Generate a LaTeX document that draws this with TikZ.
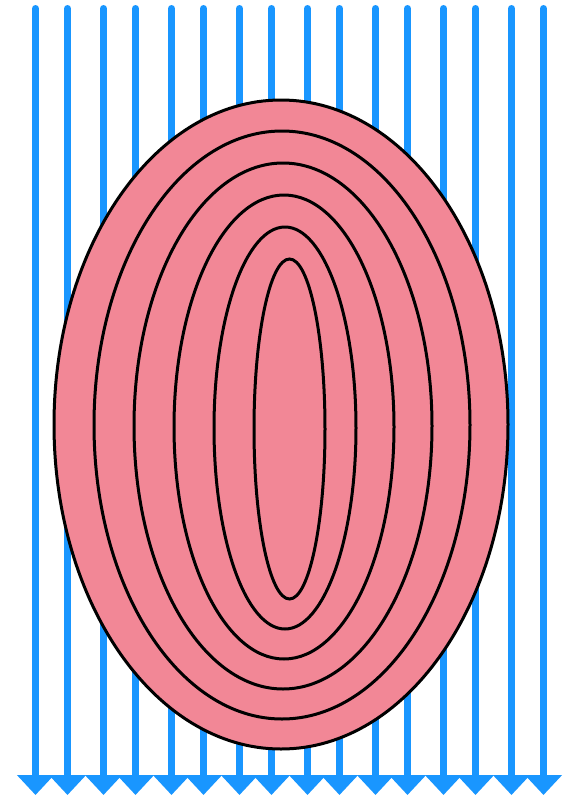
\documentclass[tikz,border=0pt]{standalone}
\usetikzlibrary{arrows.meta}
\definecolor{flowblue}{RGB}{25,150,255}
\definecolor{ringpink}{RGB}{242,135,150}
\tikzset{
  flow/.style={flowblue,line width=7pt,line cap=round,-{Triangle[width=36pt,length=20pt]}},
  ring/.style={draw=black,line width=3pt,fill=ringpink}
}
\begin{document}
\begin{tikzpicture}[x=1pt,y=-1pt]
				\useasboundingbox (0,0) rectangle (569,796);
				% field lines
				\draw[flow] (35.5,8.5) -- (35.5,795);
				\draw[flow] (67.5,8.5) -- (67.5,795);
				\draw[flow] (103.5,8.5) -- (103.5,795);
				\draw[flow] (135.5,8.5) -- (135.5,795);
				\draw[flow] (171.5,8.5) -- (171.5,795);
				\draw[flow] (203.5,8.5) -- (203.5,795);
				\draw[flow] (239.5,8.5) -- (239.5,795);
				\draw[flow] (271.5,8.5) -- (271.5,795);
				\draw[flow] (307.5,8.5) -- (307.5,795);
				\draw[flow] (339.5,8.5) -- (339.5,795);
				\draw[flow] (375.5,8.5) -- (375.5,795);
				\draw[flow] (407.5,8.5) -- (407.5,795);
				\draw[flow] (443.5,8.5) -- (443.5,795);
				\draw[flow] (475.5,8.5) -- (475.5,795);
				\draw[flow] (511.5,8.5) -- (511.5,795);
				\draw[flow] (543.5,8.5) -- (543.5,795);
				% nested rings
				\draw[ring] (281,424.5) ellipse [x radius=227,y radius=324.5];
				\draw[ring] (282,425) ellipse [x radius=188,y radius=294];
				\draw[ring] (283,426) ellipse [x radius=149,y radius=263];
				\draw[ring] (284,427) ellipse [x radius=110,y radius=232];
				\draw[ring] (285,428) ellipse [x radius=71,y radius=201];
				\draw[ring] (289.5,429) ellipse [x radius=35.5,y radius=170];
\end{tikzpicture}
\end{document}
